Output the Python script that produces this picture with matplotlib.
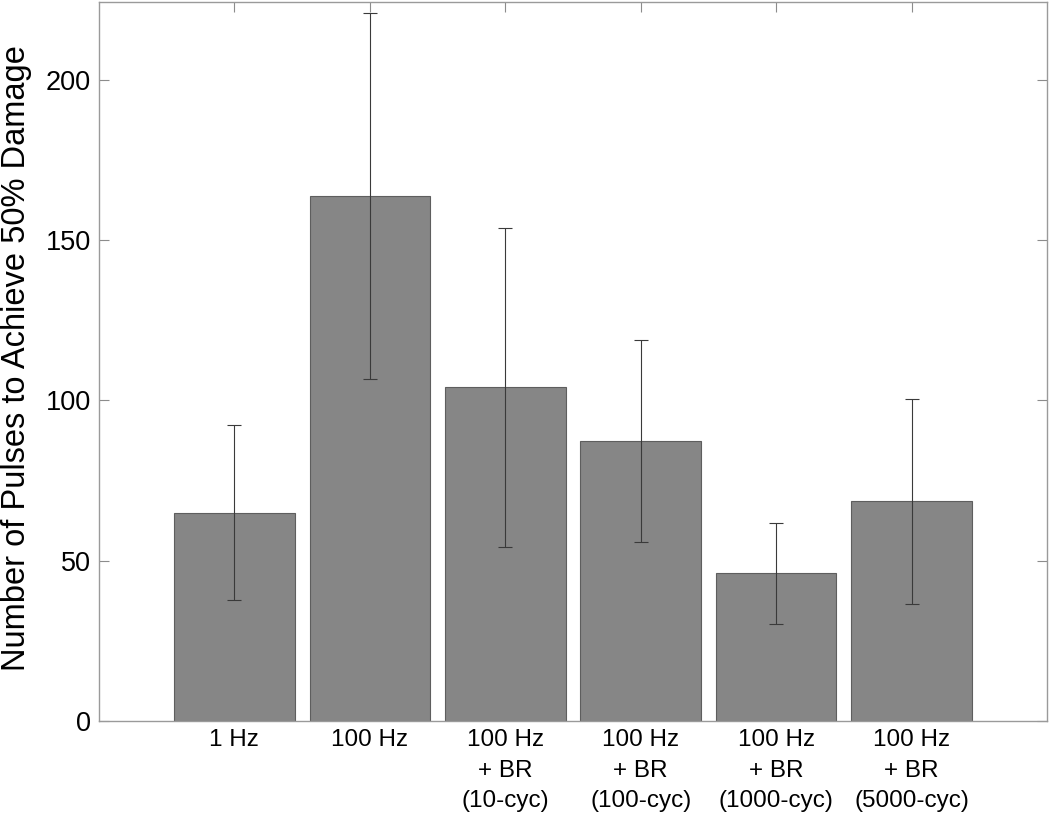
import matplotlib
matplotlib.use("Agg")

import matplotlib.pyplot as plt

plt.rcParams["font.family"] = ["Liberation Sans", "DejaVu Sans"]

# data
conditions = [
    "1 Hz",
    "100 Hz",
    "100 Hz\n+ BR\n(10-cyc)",
    "100 Hz\n+ BR\n(100-cyc)",
    "100 Hz\n+ BR\n(1000-cyc)",
    "100 Hz\n+ BR\n(5000-cyc)",
]
pulses = [64.9, 163.8, 104.1, 87.3, 46.1, 68.6]
errors = [27.3, 57.0, 49.8, 31.6, 15.8, 32.0]
positions = [1, 2, 3, 4, 5, 6]

fig = plt.figure(figsize=(10.5, 8.17), dpi=100)
ax = fig.add_axes([0.0943, 0.1175, 0.9028, 0.8801])

ax.bar(
    positions,
    pulses,
    width=0.89,
    color="#868686",
    edgecolor="#5e5e5e",
    linewidth=0.8,
    zorder=2
)

ax.errorbar(
    positions,
    pulses,
    yerr=errors,
    fmt="none",
    ecolor="#3a3a3a",
    elinewidth=0.8,
    capsize=4.7,
    capthick=0.8,
    zorder=3
)

ax.set_xlim(0, 7)
ax.set_ylim(0, 224.3)
ax.set_xticks(positions)
ax.set_xticklabels(conditions, linespacing=1.5)
ax.set_yticks([0, 50, 100, 150, 200])

ax.tick_params(
    direction="in",
    length=7,
    width=0.8,
    color="#8c8c8c",
    top=True,
    right=True
)
ax.tick_params(axis="x", pad=6, labelsize=17.5)
ax.tick_params(axis="y", pad=6, labelsize=19.5)

for side in ax.spines.values():
    side.set_color("#9a9a9a")
    side.set_linewidth(1.0)

ax.set_ylabel("Number of Pulses to Achieve 50% Damage", fontsize=23.5)
ax.yaxis.set_label_coords(-0.071, 0.505)

plt.savefig("out.png", dpi=100)
plt.close()
